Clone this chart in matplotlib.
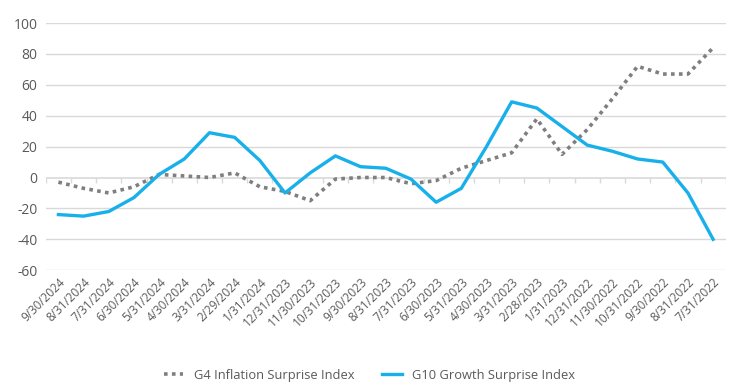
import matplotlib
matplotlib.use("Agg")
import matplotlib.pyplot as plt
import numpy as np

dates = ["9/30/2024", "8/31/2024", "7/31/2024", "6/30/2024", "5/31/2024", "4/30/2024",
         "3/31/2024", "2/29/2024", "1/31/2024", "12/31/2023", "11/30/2023", "10/31/2023",
         "9/30/2023", "8/31/2023", "7/31/2023", "6/30/2023", "5/31/2023", "4/30/2023",
         "3/31/2023", "2/28/2023", "1/31/2023", "12/31/2022", "11/30/2022", "10/31/2022",
         "9/30/2022", "8/31/2022", "7/31/2022"]
inflation = [-3, -7, -10, -6, 2, 1, 0, 3, -6, -9, -15, -1, 0, 0, -4, -2, 6, 11, 16, 38,
             15, 31, 51, 72, 67, 67, 84]
growth = [-24, -25, -22, -13, 2, 12, 29, 26, 11, -10, 3, 14, 7, 6, -1, -16, -7, 20, 49, 45,
          33, 21, 17, 12, 10, -10, -40]
yticks = [-60, -40, -20, 0, 20, 40, 60, 80, 100]

plt.rcParams['font.family'] = ['Open Sans', 'DejaVu Sans']
fig = plt.figure(figsize=(7.39, 3.91), dpi=100)
ax = fig.add_axes([0.062, 0.309, 0.920, 0.632])
x = np.arange(len(dates))

for t in yticks:
    if t != 0:
        ax.axhline(t, color="#d9d9d9", lw=1, zorder=0)
ax.axhline(0, color="#d9d9d9", lw=1.2, zorder=1)
ax.vlines(np.arange(-0.5, len(dates), 1), -3.5, 0, color="#d9d9d9", lw=1, zorder=1)

ax.plot(x, inflation, color="#7f7f7f", lw=2.6, linestyle=(0, (1, 1.2)),
        label="G4 Inflation Surprise Index", zorder=3)
ax.plot(x, growth, color="#17b0ea", lw=2.4, label="G10 Growth Surprise Index", zorder=4,
        solid_joinstyle="round")

ax.set_xlim(-0.5, len(dates) - 0.5)
ax.set_ylim(-60, 100)
ax.set_yticks(yticks)
ax.set_yticklabels([str(t) for t in yticks], fontsize=10, color="#595959")
ax.set_xticks(x)
ax.set_xticklabels(dates, rotation=45, ha="right", rotation_mode="anchor",
                   fontsize=8.5, color="#595959")
ax.tick_params(axis="both", length=0)
ax.tick_params(axis="y", pad=6)
ax.tick_params(axis="x", pad=4)
for s in ax.spines.values():
    s.set_visible(False)

leg = fig.legend(loc="center", bbox_to_anchor=(0.5, 0.04), ncol=2, frameon=False,
                 fontsize=9.3, handlelength=1.5, columnspacing=2.2, labelcolor="#595959")

fig.savefig("out.png", dpi=100)
